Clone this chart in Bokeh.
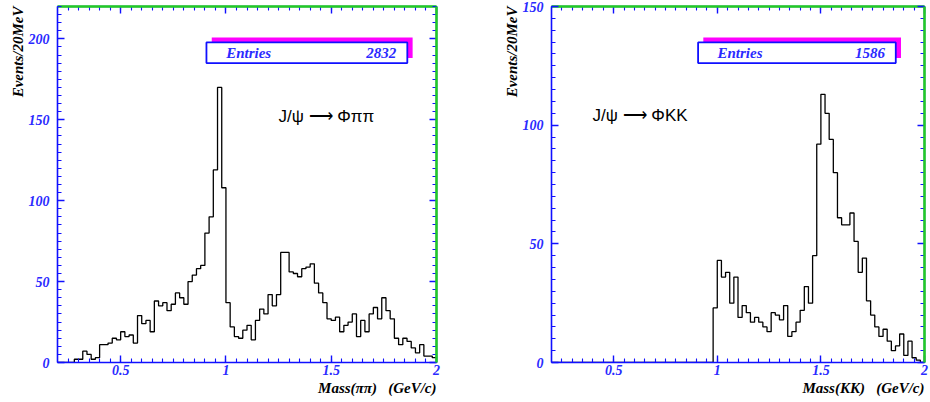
import numpy as np
from bokeh.plotting import figure
from bokeh.layouts import row
from bokeh.models import (LinearAxis, SingleIntervalTicker, NumeralTickFormatter,
                          CustomJSTickFormatter, Title, Label, BoxAnnotation)
from bokeh.embed import file_html
from bokeh.resources import INLINE

# ---------------- data ----------------
bin_start = 0.2
bin_width = 0.02
x_min, x_max = 0.2, 2.0

pipi_counts = [0, 0, 0, 0, 2, 2, 7, 5, 2, 3,
               11, 11, 12, 15, 14, 19, 16, 17, 12, 29,
               24, 26, 19, 38, 35, 37, 32, 36, 43, 40,
               36, 50, 54, 58, 60, 80, 90, 119, 170, 108,
               37, 22, 16, 15, 20, 23, 14, 26, 33, 30,
               42, 35, 42, 68, 68, 56, 55, 53, 58, 59,
               61, 49, 43, 37, 27, 26, 28, 19, 23, 25,
               30, 16, 26, 19, 30, 34, 27, 40, 32, 27,
               15, 11, 15, 13, 9, 6, 11, 4, 4, 3]

kk_counts = [0] * 39 + [23,
             43, 36, 38, 25, 36, 19, 24, 21, 17, 19,
             17, 15, 13, 21, 20, 18, 24, 11, 13, 17,
             22, 32, 25, 45, 92, 113, 105, 94, 80, 61,
             58, 58, 63, 51, 38, 44, 26, 20, 15, 11,
             14, 9, 5, 7, 12, 3, 9, 2, 1, 0]

pipi_entries = "2832"
kk_entries = "1586"
pipi_ymax = 220
kk_ymax = 150
pipi_reaction = "J/\u03c8 \u27f6 \u03a6\u03c0\u03c0"
kk_reaction = "J/\u03c8 \u27f6 \u03a6KK"
pipi_xlabel = "Mass(\u03c0\u03c0)\u00a0\u00a0\u00a0(GeV/c)"
kk_xlabel = "Mass(KK)\u00a0\u00a0\u00a0(GeV/c)"
ylabel = "Events/20MeV"

# ---------------- style ----------------
BLUE = "#1010ff"
BLUE_TXT = "#2a2aff"
GREEN = "#22cc22"
MAGENTA = "#ff00ff"
SERIF = "Liberation Serif"
SANS = "Liberation Sans"
H = 400


def style_axis(ax, labels):
    ax.axis_line_color = BLUE
    ax.axis_line_width = 1.6
    ax.major_tick_line_color = BLUE
    ax.minor_tick_line_color = BLUE
    ax.major_tick_line_width = 1.4
    ax.minor_tick_line_width = 1.1
    ax.major_tick_in = 7
    ax.major_tick_out = 0
    ax.minor_tick_in = 4
    ax.minor_tick_out = 0
    if labels:
        ax.major_label_text_font = SERIF
        ax.major_label_text_font_style = "bold italic"
        ax.major_label_text_color = BLUE_TXT
        ax.major_label_text_font_size = "14px"
    else:
        ax.formatter = CustomJSTickFormatter(code="return ''")
        ax.major_label_standoff = 0


def green_axis():
    g = LinearAxis(major_tick_line_color=None, minor_tick_line_color=None,
                   formatter=CustomJSTickFormatter(code="return ''"),
                   major_label_standoff=0,
                   axis_line_color=GREEN, axis_line_width=2.5)
    return g


def make_panel(counts, ymax, entries, reaction, xlabel, width, bl, br,
               react_fx, react_fy):
    p = figure(width=width, height=H, x_range=(x_min, x_max), y_range=(0, ymax),
               output_backend="svg", toolbar_location=None,
               min_border_left=bl, min_border_right=br,
               min_border_top=5, min_border_bottom=38)
    p.background_fill_color = "white"
    p.border_fill_color = "white"
    p.outline_line_color = None
    p.xgrid.visible = False
    p.ygrid.visible = False

    xa = p.xaxis[0]
    xa.ticker = SingleIntervalTicker(interval=0.5, num_minor_ticks=10)
    xa.formatter = NumeralTickFormatter(format="0.[0]")
    style_axis(xa, True)
    xa.major_label_standoff = 2
    ya = p.yaxis[0]
    ya.ticker = SingleIntervalTicker(interval=50, num_minor_ticks=10)
    style_axis(ya, True)
    ya.major_label_standoff = 8

    top = LinearAxis(ticker=SingleIntervalTicker(interval=0.5, num_minor_ticks=10))
    style_axis(top, False)
    p.add_layout(top, "above")
    p.add_layout(green_axis(), "above")
    right = LinearAxis(ticker=SingleIntervalTicker(interval=50, num_minor_ticks=10))
    style_axis(right, False)
    p.add_layout(right, "right")
    p.add_layout(green_axis(), "right")

    p.add_layout(Title(text=xlabel, align="right", text_font=SERIF,
                       text_font_style="bold italic", text_font_size="15px",
                       text_color="black", standoff=0), "below")
    p.add_layout(Title(text=ylabel, align="right", text_font=SERIF,
                       text_font_style="bold italic", text_font_size="15px",
                       text_color="black", standoff=0), "left")

    # histogram
    edges = bin_start + bin_width * np.arange(len(counts) + 1)
    yv = list(counts) + [counts[-1]]
    p.step(edges, yv, mode="after", line_color="black", line_width=1.3)

    # stats box (positions as fractions of the frame)
    def fx(f):
        return x_min + f * (x_max - x_min)

    def fy(f):
        return ymax * (1 - f)

    p.add_layout(BoxAnnotation(left=fx(0.407), right=fx(0.937), top=fy(0.087),
                               bottom=fy(0.145), fill_color=MAGENTA, fill_alpha=1,
                               line_color=None, level="overlay"))
    p.add_layout(BoxAnnotation(left=fx(0.393), right=fx(0.923), top=fy(0.101),
                               bottom=fy(0.159), fill_color="white", fill_alpha=1,
                               line_color=BLUE, line_alpha=1, line_width=1.8,
                               level="overlay"))
    p.add_layout(Label(x=fx(0.445), y=fy(0.131), text="Entries", text_font=SERIF,
                       text_font_style="bold italic", text_font_size="15px",
                       text_color=BLUE_TXT, text_baseline="middle", level="overlay"))
    p.add_layout(Label(x=fx(0.894), y=fy(0.131), text=entries, text_font=SERIF,
                       text_font_style="bold italic", text_font_size="15px",
                       text_color=BLUE_TXT, text_baseline="middle", text_align="right",
                       level="overlay"))
    p.add_layout(Label(x=fx(react_fx), y=fy(react_fy), text=reaction,
                       text_font=SANS, text_font_size="17px",
                       text_color="black", text_baseline="middle"))
    return p


p1 = make_panel(pipi_counts, pipi_ymax, pipi_entries, pipi_reaction, pipi_xlabel,
                480, 57, 44, 0.583, 0.31)
p2 = make_panel(kk_counts, kk_ymax, kk_entries, kk_reaction, kk_xlabel,
                450, 71, 0, 0.11, 0.307)

layout = row(p1, p2)
open("out.html", "w").write(file_html(layout, INLINE))
